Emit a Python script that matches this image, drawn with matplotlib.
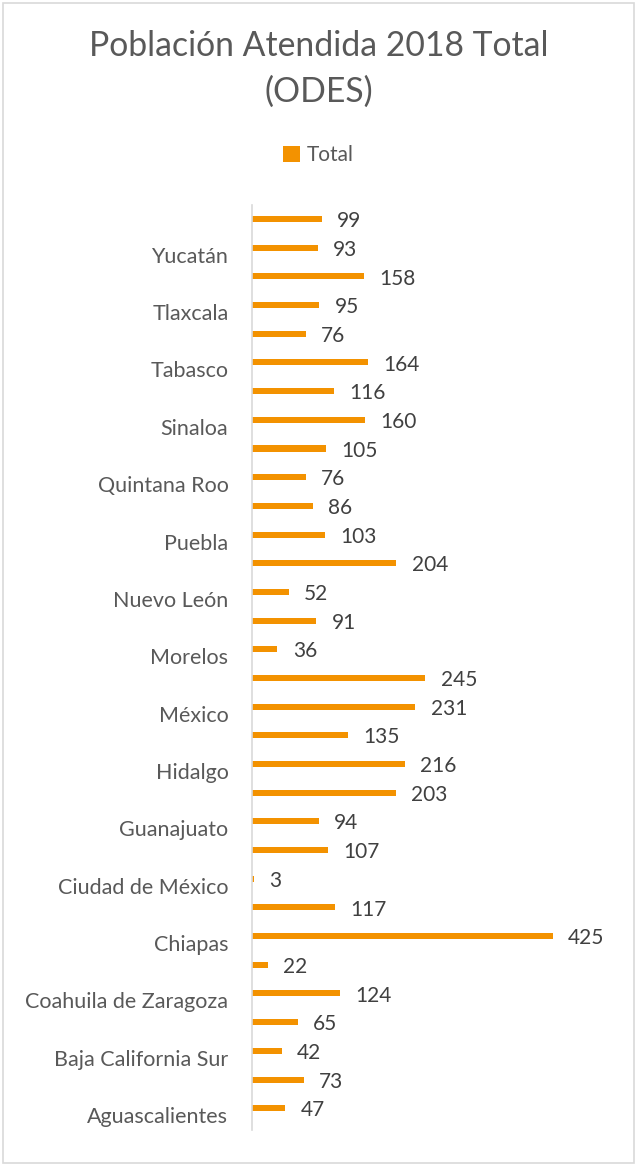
import matplotlib.pyplot as plt
from matplotlib.patches import Rectangle
from matplotlib.transforms import ScaledTranslation

# Estados (de abajo hacia arriba, como en el gráfico de Excel)
estados = [
    'Aguascalientes', 'Baja California', 'Baja California Sur', 'Campeche',
    'Coahuila de Zaragoza', 'Colima', 'Chiapas', 'Chihuahua',
    'Ciudad de México', 'Durango', 'Guanajuato', 'Guerrero',
    'Hidalgo', 'Jalisco', 'México', 'Michoacán',
    'Morelos', 'Nayarit', 'Nuevo León', 'Oaxaca',
    'Puebla', 'Querétaro', 'Quintana Roo', 'San Luis Potosí',
    'Sinaloa', 'Sonora', 'Tabasco', 'Tamaulipas',
    'Tlaxcala', 'Veracruz', 'Yucatán', 'Zacatecas',
]
total = [
    47, 73, 42, 65,
    124, 22, 425, 117,
    3, 107, 94, 203,
    216, 135, 231, 245,
    36, 91, 52, 204,
    103, 86, 76, 105,
    160, 116, 164, 76,
    95, 158, 93, 99,
]

naranja = '#F39200'
gris_txt = '#595959'

plt.rcParams['font.family'] = ['Lato', 'DejaVu Sans']

fig = plt.figure(figsize=(6.37, 11.65), dpi=100)
ax = fig.add_axes([252 / 637, 1 - 1130 / 1165, 0.50, 925 / 1165])

pos = list(range(len(estados)))
barras = ax.barh(pos, total, height=0.21, color=naranja, label='Total')
etiquetas = ax.bar_label(barras, labels=[str(v) for v in total], padding=11,
                         fontsize=15, color='#404040')
for t in etiquetas:
    t.xyann = (11, -1.5)

ax.set_xlim(0, 450)
ax.set_ylim(-0.76, 31.49)
ax.set_yticks(pos[::2])
ax.set_yticklabels(estados[::2], fontsize=15.5, color=gris_txt)
ax.tick_params(axis='y', length=0, pad=17)
ax.set_xticks([])

# en Excel las etiquetas de categoría quedan un poco más abajo que las barras
baja = ScaledTranslation(0, -0.07, fig.dpi_scale_trans)
for lbl in ax.get_yticklabels():
    lbl.set_transform(lbl.get_transform() + baja)

for lado in ['top', 'right', 'bottom']:
    ax.spines[lado].set_visible(False)
ax.spines['left'].set_color('#D9D9D9')
ax.spines['left'].set_linewidth(1.2)

# Título y leyenda
fig.text(0.5, 1 - 46 / 1165, 'Población Atendida 2018 Total',
         ha='center', va='center', fontsize=24.3, color=gris_txt)
fig.text(0.5, 1 - 92 / 1165, '(ODES)',
         ha='center', va='center', fontsize=24.3, color=gris_txt)
fig.legend(handles=[barras], labels=['Total'], loc='center',
           bbox_to_anchor=(0.5, 1 - 155 / 1165), frameon=False,
           fontsize=15, labelcolor=gris_txt, handlelength=0.8,
           handleheight=0.8, handletextpad=0.35)

# Borde del área del gráfico
fig.patches.append(Rectangle((3 / 637, 2 / 1165), 631 / 637, 1160 / 1165,
                             transform=fig.transFigure, fill=False,
                             edgecolor='#D9D9D9', linewidth=1.2))

fig.savefig('out.png', dpi=100)
